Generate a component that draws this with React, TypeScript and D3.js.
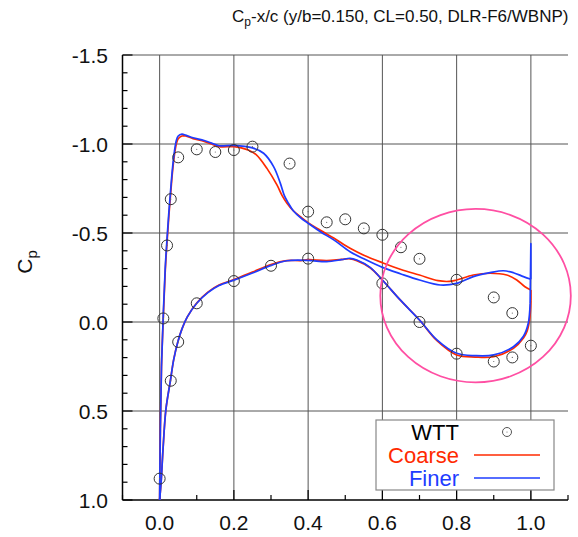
import React from "react";
import * as d3 from "d3";

// ---------- data ----------
const xTickLabels = ["0.0", "0.2", "0.4", "0.6", "0.8", "1.0"];
const yTickLabels = ["-1.5", "-1.0", "-0.5", "0.0", "0.5", "1.0"];

const wttUpperX = [0, 0.01, 0.02, 0.03, 0.05, 0.1, 0.15, 0.2, 0.25, 0.35, 0.4, 0.45, 0.5, 0.55, 0.6, 0.65, 0.7, 0.8, 0.9, 0.95];
const wttUpperCp = [0.88, -0.02, -0.43, -0.69, -0.925, -0.97, -0.955, -0.966, -0.985, -0.89, -0.62, -0.56, -0.577, -0.526, -0.49, -0.42, -0.355, -0.237, -0.138, -0.05];
const wttLowerX = [0.03, 0.05, 0.1, 0.2, 0.3, 0.4, 0.6, 0.7, 0.8, 0.9, 0.95, 1.0];
const wttLowerCp = [0.33, 0.112, -0.105, -0.23, -0.316, -0.356, -0.217, 0.0, 0.178, 0.222, 0.199, 0.133];

const finerUpperX = [0, 0.002, 0.005, 0.01, 0.015, 0.02, 0.025, 0.03, 0.035, 0.04, 0.045, 0.05, 0.06, 0.07, 0.09, 0.12, 0.14, 0.16, 0.2, 0.25, 0.28, 0.307, 0.325, 0.336, 0.347, 0.36, 0.38, 0.4, 0.433, 0.47, 0.513, 0.55, 0.6, 0.65, 0.7, 0.756, 0.8, 0.845, 0.89, 0.926, 0.953, 0.98, 1.0];
const finerUpperCp = [1.0, 0.6, 0.25, -0.05, -0.3, -0.47, -0.62, -0.75, -0.87, -0.96, -1.02, -1.045, -1.055, -1.05, -1.035, -1.02, -1.005, -0.99, -0.992, -0.978, -0.948, -0.873, -0.78, -0.71, -0.667, -0.625, -0.585, -0.555, -0.507, -0.46, -0.395, -0.355, -0.307, -0.27, -0.236, -0.208, -0.217, -0.255, -0.277, -0.288, -0.277, -0.255, -0.24];
const finerLowerX = [0, 0.004, 0.009, 0.017, 0.029, 0.038, 0.049, 0.06, 0.075, 0.1, 0.13, 0.16, 0.2, 0.25, 0.3, 0.343, 0.4, 0.45, 0.49, 0.513, 0.531, 0.567, 0.6, 0.648, 0.7, 0.747, 0.8, 0.85, 0.9, 0.953, 0.98, 0.993, 0.998];
const finerLowerCp = [1.0, 0.9, 0.72, 0.49, 0.33, 0.21, 0.112, 0.04, -0.03, -0.105, -0.165, -0.205, -0.235, -0.275, -0.318, -0.344, -0.346, -0.339, -0.35, -0.358, -0.348, -0.307, -0.236, -0.124, -0.011, 0.101, 0.176, 0.189, 0.185, 0.139, 0.08, 0.007, -0.105];
const finerTeX = [0.998, 1.0, 1.0];
const finerTeCp = [-0.105, -0.44, -0.24];

const coarseUpperX = [0, 0.002, 0.005, 0.01, 0.015, 0.02, 0.025, 0.03, 0.035, 0.04, 0.045, 0.05, 0.06, 0.07, 0.09, 0.12, 0.14, 0.16, 0.2, 0.22, 0.24, 0.26, 0.289, 0.316, 0.33, 0.343, 0.36, 0.38, 0.4, 0.433, 0.47, 0.513, 0.55, 0.6, 0.65, 0.7, 0.75, 0.78, 0.8, 0.845, 0.89, 0.935, 0.962, 0.984, 1.0];
const coarseUpperCp = [1.0, 0.6, 0.25, -0.03, -0.28, -0.45, -0.6, -0.73, -0.85, -0.94, -1.0, -1.03, -1.045, -1.045, -1.03, -1.015, -1.0, -0.985, -0.985, -0.978, -0.965, -0.94, -0.863, -0.77, -0.71, -0.667, -0.625, -0.59, -0.558, -0.515, -0.47, -0.414, -0.375, -0.333, -0.295, -0.264, -0.232, -0.228, -0.236, -0.264, -0.274, -0.264, -0.236, -0.198, -0.18];
const coarseLowerX = [0, 0.004, 0.009, 0.017, 0.029, 0.038, 0.049, 0.06, 0.075, 0.1, 0.13, 0.16, 0.2, 0.25, 0.3, 0.343, 0.38, 0.4, 0.45, 0.49, 0.513, 0.531, 0.567, 0.6, 0.648, 0.7, 0.747, 0.8, 0.85, 0.9, 0.953, 0.98, 0.99, 0.997, 1.0];
const coarseLowerCp = [1.0, 0.9, 0.72, 0.49, 0.33, 0.21, 0.112, 0.04, -0.03, -0.107, -0.168, -0.208, -0.238, -0.28, -0.323, -0.345, -0.345, -0.35, -0.345, -0.352, -0.355, -0.345, -0.305, -0.236, -0.124, -0.011, 0.105, 0.185, 0.197, 0.195, 0.148, 0.09, 0.05, -0.02, -0.12];
const coarseTeX = [1.0, 1.0];
const coarseTeCp = [-0.12, -0.18];

// highlight ellipse (data units)
const ellipseCenter = [0.851, -0.148];
const ellipseRadii = [0.2566, 0.487];

// ---------- layout ----------
const W = 578, H = 537;
const x = d3.scaleLinear().domain([-0.1, 1.1]).range([122.5, 568]);
const y = d3.scaleLinear().domain([-1.5, 1.0]).range([55, 500]);

const RED = "#ff2a00";
const BLUE = "#1e3cff";
const PINK = "#ff4fa3";
const FONT = "'Liberation Sans', Arial, sans-serif";

const zip = (xs: number[], ys: number[]) => xs.map((v, i) => [v, ys[i]] as [number, number]);

const smooth = d3.line<[number, number]>().x(d => x(d[0])).y(d => y(d[1])).curve(d3.curveCatmullRom.alpha(0.5));
const straight = d3.line<[number, number]>().x(d => x(d[0])).y(d => y(d[1]));

export default function App() {
  const xGrid = [0, 0.2, 0.4, 0.6, 0.8, 1.0];
  const yGrid = [-1.5, -1.0, -0.5, 0, 0.5];
  const xTicks = d3.range(-0.1, 1.1001, 0.1).map(v => +v.toFixed(2));
  const yTicks = d3.range(-1.5, 1.0001, 0.1).map(v => +v.toFixed(2));
  const isXMajor = (v: number) => Math.abs(Math.round(v * 10) % 2) === 0 && v >= 0 && v <= 1.0;
  const isYMajor = (v: number) => Math.abs(Math.round(v * 10) % 5) === 0;

  const series = [
    { color: RED, upper: zip(coarseUpperX, coarseUpperCp), lower: zip(coarseLowerX, coarseLowerCp), te: zip(coarseTeX, coarseTeCp) },
    { color: BLUE, upper: zip(finerUpperX, finerUpperCp), lower: zip(finerLowerX, finerLowerCp), te: zip(finerTeX, finerTeCp) },
  ];
  const wtt = [...zip(wttUpperX, wttUpperCp), ...zip(wttLowerX, wttLowerCp)];

  const ecx = x(ellipseCenter[0]);
  const ecy = y(ellipseCenter[1]);
  const erx = x(ellipseCenter[0] + ellipseRadii[0]) - ecx;
  const ery = y(ellipseCenter[1] + ellipseRadii[1]) - ecy;

  return (
    <svg width={W} height={H} style={{ position: "absolute", left: 0, top: 0, background: "#fff" }} fontFamily={FONT}>
      <rect width={W} height={H} fill="#fff" />
      {/* title */}
      <text x={232} y={22} fontSize={17} fill="#111">
        C<tspan fontSize={12} dy={4}>p</tspan><tspan dy={-4}>-x/c (y/b=0.150, CL=0.50, DLR-F6/WBNP)</tspan>
      </text>

      {/* grid */}
      {xGrid.map(v => (
        <line key={"gx" + v} x1={x(v)} x2={x(v)} y1={y(-1.5)} y2={y(1.0)} stroke="#555" strokeWidth={1} />
      ))}
      {yGrid.map(v => (
        <line key={"gy" + v} x1={x(-0.1)} x2={x(1.1)} y1={y(v)} y2={y(v)} stroke="#555" strokeWidth={1} />
      ))}

      {/* axes */}
      <line x1={x(-0.1)} x2={x(-0.1)} y1={y(-1.5)} y2={y(1.0)} stroke="#000" strokeWidth={1.5} />
      <line x1={x(-0.1)} x2={x(1.1)} y1={y(1.0)} y2={y(1.0)} stroke="#000" strokeWidth={1.5} />
      {yTicks.map(v => (
        <line key={"ty" + v} x1={x(-0.1)} x2={x(-0.1) + (isYMajor(v) ? 10 : 5)} y1={y(v)} y2={y(v)} stroke="#000" strokeWidth={1.2} />
      ))}
      {xTicks.map(v => (
        <line key={"tx" + v} x1={x(v)} x2={x(v)} y1={y(1.0)} y2={y(1.0) - (isXMajor(v) ? 10 : 5)} stroke="#000" strokeWidth={1.2} />
      ))}

      {/* tick labels */}
      {xGrid.map((v, i) => (
        <text key={"lx" + v} x={x(v)} y={530} textAnchor="middle" fontSize={21} fill="#111">{xTickLabels[i]}</text>
      ))}
      {[-1.5, -1.0, -0.5, 0, 0.5, 1.0].map((v, i) => (
        <text key={"ly" + v} x={108} y={y(v)} dy="0.36em" textAnchor="end" fontSize={21} fill="#111">{yTickLabels[i]}</text>
      ))}

      {/* y axis title */}
      <text transform={`translate(32,262) rotate(-90)`} textAnchor="middle" fontSize={21} fill="#111">
        C<tspan fontSize={15} dy={5}>p</tspan>
      </text>

      {/* curves */}
      {series.map((s, i) => (
        <g key={"s" + i} fill="none" stroke={s.color} strokeWidth={1.7} strokeLinejoin="round">
          <path d={smooth(s.upper) || ""} />
          <path d={smooth(s.lower) || ""} />
          <path d={straight(s.te) || ""} />
        </g>
      ))}

      {/* WTT circles */}
      {wtt.map((p, i) => (
        <g key={"w" + i}>
          <circle cx={x(p[0])} cy={y(p[1])} r={5.5} fill="none" stroke="#333" strokeWidth={1} />
          <circle cx={x(p[0])} cy={y(p[1])} r={0.6} fill="#666" />
        </g>
      ))}

      {/* highlight ellipse */}
      <ellipse cx={ecx} cy={ecy} rx={Math.abs(erx)} ry={Math.abs(ery)} fill="none" stroke={PINK} strokeWidth={1.8} />

      {/* legend */}
      <rect x={376} y={420} width={178} height={70} fill="#fff" stroke="#888" strokeWidth={1.2} />
      <text x={459} y={440} textAnchor="end" fontSize={22} fill="#000">WTT</text>
      <text x={459} y={463} textAnchor="end" fontSize={22} fill={RED}>Coarse</text>
      <text x={459} y={486} textAnchor="end" fontSize={22} fill={BLUE}>Finer</text>
      <circle cx={507} cy={432} r={4.5} fill="none" stroke="#555" strokeWidth={1} />
      <circle cx={507} cy={432} r={0.6} fill="#666" />
      <line x1={474} x2={540} y1={455} y2={455} stroke={RED} strokeWidth={1.7} />
      <line x1={474} x2={540} y1={478} y2={478} stroke={BLUE} strokeWidth={1.7} />
    </svg>
  );
}
